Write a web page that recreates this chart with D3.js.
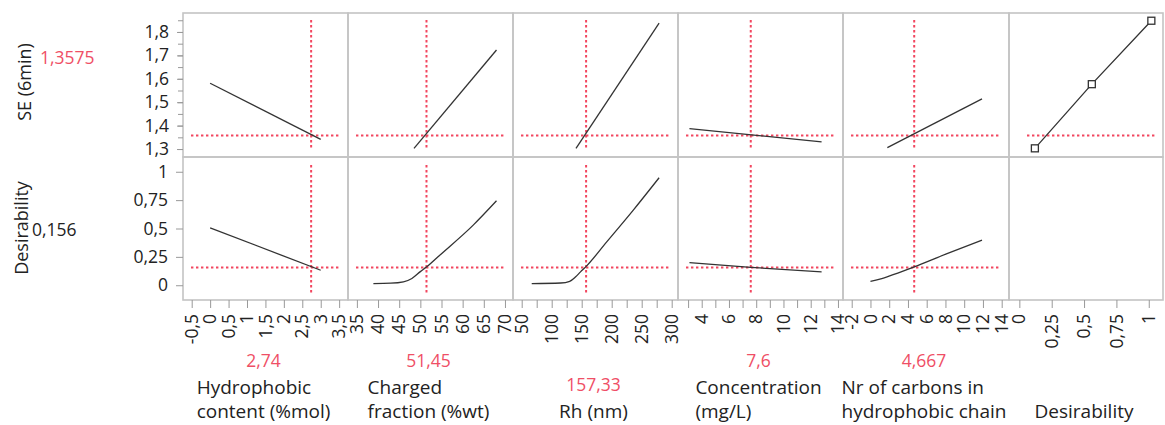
<!DOCTYPE html>
<html>
<head>
<meta charset="utf-8">
<script src="https://cdn.jsdelivr.net/npm/d3@7"></script>
<style>
  body { margin: 0; background: #fff; }
  text { font-family: "Open Sans", "Noto Sans", sans-serif; fill: #222; }
  .red { fill: #ef4f66; }
  .panel { fill: none; stroke: #c4c4c4; stroke-width: 1.6; }
  .cross { stroke: #f2465f; stroke-width: 2; stroke-dasharray: 2.4,2.6; fill: none; }
  .curve { fill: none; stroke: #333; stroke-width: 1.3; }
  .tick line { stroke: #999; }
</style>
</head>
<body>
<svg id="chart"></svg>
<script>
const svgWidth = 1165, svgHeight = 425;

// factor names (lines), current settings and their labels
const factorNames = [
  ["Hydrophobic", "content (%mol)"],
  ["Charged", "fraction (%wt)"],
  ["Rh (nm)"],
  ["Concentration", "(mg/L)"],
  ["Nr of carbons in", "hydrophobic chain"],
  ["Desirability"]
];
const currentX = [2.74, 51.45, 157.33, 7.6, 4.667];
const currentLabels = ["2,74", "51,45", "157,33", "7,6", "4,667"];

const seName = "SE (6min)";
const seCurrent = 1.3575, seCurrentLabel = "1,3575";
const desName = "Desirability";
const desCurrent = 0.156, desCurrentLabel = "0,156";

// tick values for each factor axis (labelled and unlabelled)
const xTickLabels = [
  [-0.5, 0, 0.5, 1, 1.5, 2, 2.5, 3, 3.5],
  [35, 40, 45, 50, 55, 60, 65, 70],
  [50, 100, 150, 200, 250, 300],
  [4, 6, 8, 10, 12, 14],
  [-2, 0, 2, 4, 6, 8, 10, 12, 14],
  [0, 0.25, 0.5, 0.75, 1]
];
const xTickMarks = [
  [-0.5, 0, 0.5, 1, 1.5, 2, 2.5, 3, 3.5],
  [35, 40, 45, 50, 55, 60, 65, 70],
  [50, 75, 100, 125, 150, 175, 200, 225, 250, 275, 300],
  [3, 4, 5, 6, 7, 8, 9, 10, 11, 12, 13, 14],
  [-2, 0, 2, 4, 6, 8, 10, 12, 14],
  [0, 0.25, 0.5, 0.75, 1]
];
const seTickLabels = [1.3, 1.4, 1.5, 1.6, 1.7, 1.8];
const seTickMarks = [1.3, 1.35, 1.4, 1.45, 1.5, 1.55, 1.6, 1.65, 1.7, 1.75, 1.8, 1.85];
const desTickLabels = [0, 0.25, 0.5, 0.75, 1];

// profile traces, SE (6min) row
const seHydro = [[0, 1.581], [3, 1.341]];
const seCharged = [[48.5, 1.303], [68, 1.723]];
const seRh = [[140.5, 1.303], [279, 1.838]];
const seConc = [[3.1, 1.387], [12.8, 1.331]];
const seCarbons = [[1.8, 1.306], [11.9, 1.514]];

// profile traces, Desirability row
const desHydro = [[0, 0.506], [3, 0.132]];
const desCharged = [[38.9, 0.015], [43, 0.018], [46, 0.03], [48, 0.06], [50, 0.12], [51.5, 0.162], [54.6, 0.265], [62.5, 0.53], [68, 0.744]];
const desRh = [[66.7, 0.015], [115, 0.02], [130, 0.035], [140, 0.075], [148, 0.118], [156.7, 0.162], [191.7, 0.382], [236, 0.662], [279, 0.947]];
const desConc = [[3.1, 0.2], [7.6, 0.158], [12.8, 0.117]];
const desCarbons = [[0, 0.035], [1, 0.053], [2.5, 0.095], [4.667, 0.162], [8.1, 0.276], [11.9, 0.397]];

// desirability function (desirability vs SE)
const desFunction = [[0.12, 1.303], [0.56, 1.577], [1.02, 1.848]];

const seRow = [seHydro, seCharged, seRh, seConc, seCarbons];
const desRow = [desHydro, desCharged, desRh, desConc, desCarbons];

// layout
const colEdges = [183, 348, 513, 678, 843, 1009, 1163];
const rowTop = 13, rowMid = 157, rowBottom = 300;
const xDomains = [[-0.736, 3.74], [32.9, 71.9], [35.5, 310.5], [2.26, 14.37], [-2.93, 14.78], [-0.08, 1.11]];

const fmt = v => String(v).replace(".", ",");

const chart = d3.select("#chart")
    .attr("width", svgWidth)
    .attr("height", svgHeight);

// scales
var xScales = xDomains.map((dom, i) => d3.scaleLinear().domain(dom).range([colEdges[i], colEdges[i + 1]]));
var ySE = d3.scaleLinear().domain([1.266, 1.881]).range([rowMid, rowTop]);
var yDes = d3.scaleLinear().domain([-0.13, 1.13]).range([rowBottom, rowMid]);

// panel frames
for (let i = 0; i < 6; i++) {
    chart.append("rect").attr("class", "panel")
        .attr("x", colEdges[i]).attr("y", rowTop)
        .attr("width", colEdges[i + 1] - colEdges[i]).attr("height", rowMid - rowTop);
    chart.append("rect").attr("class", "panel")
        .attr("x", colEdges[i]).attr("y", rowMid)
        .attr("width", colEdges[i + 1] - colEdges[i]).attr("height", rowBottom - rowMid);
}

// y axes
var seAxisMinor = d3.axisLeft(ySE).tickValues(seTickMarks).tickSize(5).tickFormat("");
chart.append("g").attr("transform", `translate(${colEdges[0]},0)`).call(seAxisMinor)
    .call(g => g.select(".domain").remove());
var seAxis = d3.axisLeft(ySE).tickValues(seTickLabels).tickSize(6).tickPadding(8).tickFormat(fmt);
chart.append("g").attr("transform", `translate(${colEdges[0]},0)`).call(seAxis)
    .call(g => g.select(".domain").remove())
    .selectAll("text").style("font-size", "17.5px").attr("fill", "#222");

var desAxis = d3.axisLeft(yDes).tickValues(desTickLabels).tickSize(7).tickPadding(8).tickFormat(fmt);
chart.append("g").attr("transform", `translate(${colEdges[0]},0)`).call(desAxis)
    .call(g => g.select(".domain").remove())
    .selectAll("text").style("font-size", "17.5px").attr("fill", "#222");

// x axes, rotated labels
xScales.forEach((xs, i) => {
    chart.append("g").attr("transform", `translate(0,${rowBottom})`)
        .call(d3.axisBottom(xs).tickValues(xTickMarks[i]).tickSize(8).tickFormat(""))
        .call(g => g.select(".domain").remove());
    chart.append("g").selectAll("text")
        .data(xTickLabels[i]).enter().append("text")
        .attr("transform", d => `translate(${xs(d)},${rowBottom + 14}) rotate(-90)`)
        .attr("dy", "0.35em")
        .attr("text-anchor", "end")
        .style("font-size", "17.5px")
        .text(fmt);
});

// row titles
chart.append("text").attr("transform", "translate(31,82) rotate(-90)")
    .attr("text-anchor", "middle").style("font-size", "18px").text(seName);
chart.append("text").attr("class", "red").attr("x", 40).attr("y", 64)
    .style("font-size", "17.5px").text(seCurrentLabel);
chart.append("text").attr("transform", "translate(28,228) rotate(-90)")
    .attr("text-anchor", "middle").style("font-size", "18px").text(desName);
chart.append("text").attr("x", 32).attr("y", 236)
    .style("font-size", "17.5px").text(desCurrentLabel);

// crosshairs
var inset = 8;
for (let i = 0; i < 6; i++) {
    let left = colEdges[i] + (i == 5 ? 18 : inset), right = colEdges[i + 1] - inset;
    chart.append("line").attr("class", "cross")
        .attr("x1", left).attr("x2", right).attr("y1", ySE(seCurrent)).attr("y2", ySE(seCurrent));
    if (i < 5) {
        chart.append("line").attr("class", "cross")
            .attr("x1", left).attr("x2", right).attr("y1", yDes(desCurrent)).attr("y2", yDes(desCurrent));
        let cx = xScales[i](currentX[i]);
        chart.append("line").attr("class", "cross")
            .attr("x1", cx).attr("x2", cx).attr("y1", rowTop + 7).attr("y2", rowMid - 8);
        chart.append("line").attr("class", "cross")
            .attr("x1", cx).attr("x2", cx).attr("y1", rowMid + 8).attr("y2", rowBottom - 7);
    }
}

// profile curves
seRow.forEach((data, i) => {
    var line = d3.line().x(d => xScales[i](d[0])).y(d => ySE(d[1])).curve(d3.curveMonotoneX);
    chart.append("path").attr("class", "curve").datum(data).attr("d", line);
});
desRow.forEach((data, i) => {
    var line = d3.line().x(d => xScales[i](d[0])).y(d => yDes(d[1])).curve(d3.curveMonotoneX);
    chart.append("path").attr("class", "curve").datum(data).attr("d", line);
});

// desirability function with handles
var desLine = d3.line().x(d => xScales[5](d[0])).y(d => ySE(d[1]));
chart.append("path").attr("class", "curve").datum(desFunction).attr("d", desLine);
chart.append("g").selectAll("rect").data(desFunction).enter().append("rect")
    .attr("x", d => xScales[5](d[0]) - 3.5).attr("y", d => ySE(d[1]) - 3.5)
    .attr("width", 7).attr("height", 7)
    .attr("fill", "#fff").attr("stroke", "#333").attr("stroke-width", 1.3);

// factor labels under the axes
factorNames.forEach((lines, i) => {
    var center = (colEdges[i] + colEdges[i + 1]) / 2 - 2;
    var firstBase = lines.length == 2 ? 394 : 418;
    var g = chart.append("g");
    var texts = g.selectAll("text").data(lines).enter().append("text")
        .attr("y", (d, j) => firstBase + j * 24)
        .style("font-size", "19px")
        .text(d => d);
    var w = d3.max(texts.nodes(), n => n.getComputedTextLength());
    texts.attr("x", center - w / 2);
    if (i < 5) {
        chart.append("text").attr("class", "red")
            .attr("x", center).attr("y", firstBase - 27)
            .attr("text-anchor", "middle")
            .style("font-size", "17.5px")
            .text(currentLabels[i]);
    }
});
</script>
</body>
</html>
